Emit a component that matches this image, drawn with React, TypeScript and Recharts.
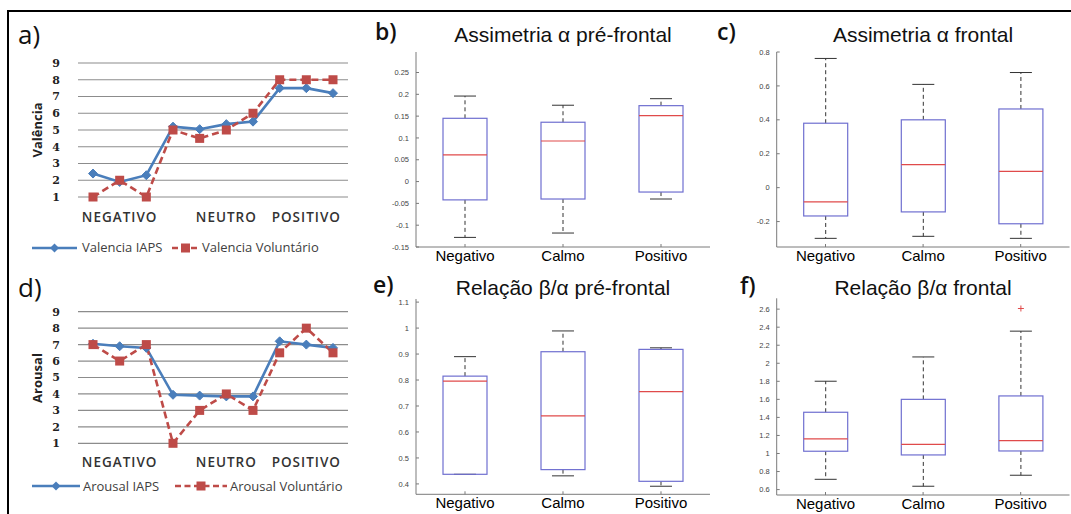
import React from 'react';
import { ComposedChart, Line, Bar, XAxis, YAxis, CartesianGrid } from 'recharts';

// ---------- Panels a) and d): ratings per stimulus ----------
const stimulusIndex = [0, 1, 2, 3, 4, 5, 6, 7, 8, 9];
const stimulusTickLabels = ['', 'NEGATIVO', '', '', '', 'NEUTRO', '', '', 'POSITIVO', ''];
const likertTicks = [1, 2, 3, 4, 5, 6, 7, 8, 9];
const valenciaIAPS = [2.4, 1.9, 2.3, 5.2, 5.05, 5.35, 5.5, 7.5, 7.5, 7.2];
const valenciaVoluntario = [1, 2, 1, 5, 4.5, 5, 6, 8, 8, 8];
const arousalIAPS = [7.05, 6.9, 6.8, 3.95, 3.9, 3.85, 3.85, 7.2, 7.0, 6.8];
const arousalVoluntario = [7, 6, 7, 1, 3, 4, 3, 6.5, 8, 6.5];

// ---------- Box plots b), c), e), f) ----------
const groupNames = ['Negativo', 'Calmo', 'Positivo'];

// b) Assimetria alpha pre-frontal
const asymPreLow = [-0.128, -0.118, -0.04];
const asymPreQ1 = [-0.042, -0.04, -0.024];
const asymPreMedian = [0.061, 0.093, 0.151];
const asymPreQ3 = [0.145, 0.136, 0.174];
const asymPreHigh = [0.196, 0.175, 0.19];
const asymPreTicks = [-0.15, -0.1, -0.05, 0, 0.05, 0.1, 0.15, 0.2, 0.25];
const asymPreDomain = [-0.15, 0.297];

// c) Assimetria alpha frontal
const asymFrLow = [-0.299, -0.287, -0.299];
const asymFrQ1 = [-0.167, -0.143, -0.213];
const asymFrMedian = [-0.084, 0.136, 0.096];
const asymFrQ3 = [0.38, 0.4, 0.464];
const asymFrHigh = [0.762, 0.609, 0.679];
const asymFrTicks = [-0.2, 0, 0.2, 0.4, 0.6, 0.8];
const asymFrDomain = [-0.35, 0.8];

// e) Relacao beta/alpha pre-frontal
const ratioPreLow = [0.437, 0.431, 0.391];
const ratioPreQ1 = [0.437, 0.455, 0.41];
const ratioPreMedian = [0.796, 0.662, 0.755];
const ratioPreQ3 = [0.815, 0.909, 0.918];
const ratioPreHigh = [0.89, 0.989, 0.924];
const ratioPreTicks = [0.4, 0.5, 0.6, 0.7, 0.8, 0.9, 1, 1.1];
const ratioPreDomain = [0.36, 1.112];

// f) Relacao beta/alpha frontal
const ratioFrLow = [0.714, 0.637, 0.759];
const ratioFrQ1 = [1.025, 0.984, 1.028];
const ratioFrMedian = [1.161, 1.102, 1.143];
const ratioFrQ3 = [1.457, 1.6, 1.638];
const ratioFrHigh = [1.801, 2.07, 2.356];
const ratioFrOutliers = [[], [], [2.607]];
const ratioFrTicks = [0.6, 0.8, 1, 1.2, 1.4, 1.6, 1.8, 2, 2.2, 2.4, 2.6];
const ratioFrDomain = [0.54, 2.72];

const BLUE = '#4a7ebb';
const RED = '#be4b48';
const BOX = '#6f6fd0';
const MED = '#e04a4a';
const FRAME = '#7a7a7a';

function buildRows(low: number[], q1: number[], med: number[], q3: number[], high: number[], outliers?: number[][]) {
  return groupNames.map((name, i) => ({
    name,
    range: [low[i], high[i]],
    low: low[i],
    q1: q1[i],
    med: med[i],
    q3: q3[i],
    high: high[i],
    outliers: outliers ? outliers[i] : [],
  }));
}

function BoxShape(props: any) {
  const { x, y, width, height, payload, index } = props;
  if (x == null || y == null || !payload) return null;
  const top = Math.min(y, y + height);
  const bot = Math.max(y, y + height);
  const lo = payload.low;
  const hi = payload.high;
  const py = (v: number) => bot - ((v - lo) / (hi - lo)) * (bot - top);
  const cx = x + width / 2;
  const cap = width / 4;
  const yq1 = py(payload.q1);
  const yq3 = py(payload.q3);
  const ymed = py(payload.med);
  return (
    <g key={`box-${index}`}>
      <line x1={cx} x2={cx} y1={yq3} y2={py(hi)} stroke="#333" strokeWidth={1} strokeDasharray="4 3" />
      <line x1={cx} x2={cx} y1={yq1} y2={py(lo)} stroke="#333" strokeWidth={1} strokeDasharray="4 3" />
      <line x1={cx - cap} x2={cx + cap} y1={py(hi)} y2={py(hi)} stroke="#333" strokeWidth={1} />
      <line x1={cx - cap} x2={cx + cap} y1={py(lo)} y2={py(lo)} stroke="#333" strokeWidth={1} />
      <rect x={x} y={yq3} width={width} height={yq1 - yq3} fill="none" stroke={BOX} strokeWidth={1.2} />
      <line x1={x} x2={x + width} y1={ymed} y2={ymed} stroke={MED} strokeWidth={1.2} />
      {(payload.outliers || []).map((o: number, k: number) => {
        const oy = py(o);
        return (
          <g key={k}>
            <line x1={cx - 3} x2={cx + 3} y1={oy} y2={oy} stroke={MED} strokeWidth={1} />
            <line x1={cx} x2={cx} y1={oy - 3} y2={oy + 3} stroke={MED} strokeWidth={1} />
          </g>
        );
      })}
    </g>
  );
}

function BoxPanel(p: {
  left: number; top: number; width: number; height: number;
  margin: { top: number; right: number; left: number; bottom: number };
  rows: any[]; domain: number[]; ticks: number[];
}) {
  return (
    <div style={{ position: 'absolute', left: p.left, top: p.top }}>
      <ComposedChart width={p.width} height={p.height} data={p.rows} margin={p.margin}>
        <XAxis
          dataKey="name"
          interval={0}
          height={24}
          tickSize={-3}
          tickMargin={6}
          axisLine={{ stroke: FRAME }}
          tickLine={{ stroke: FRAME }}
          tick={{ fontSize: 15, fill: '#000', fontFamily: 'Liberation Sans, Arial, sans-serif' }}
        />
        <XAxis
          xAxisId="top"
          dataKey="name"
          orientation="top"
          height={0}
          tick={false}
          tickSize={-3}
          axisLine={{ stroke: FRAME }}
          tickLine={{ stroke: FRAME }}
        />
        <YAxis
          type="number"
          domain={p.domain}
          ticks={p.ticks}
          interval={0}
          width={40}
          allowDataOverflow
          tickSize={-3}
          tickMargin={10}
          axisLine={{ stroke: FRAME }}
          tickLine={{ stroke: FRAME }}
          tickFormatter={(v: number) => String(v)}
          tick={{ fontSize: 7.5, fill: '#444', fontFamily: 'Liberation Sans, Arial, sans-serif' }}
        />
        <YAxis
          yAxisId="right"
          orientation="right"
          type="number"
          domain={p.domain}
          ticks={p.ticks}
          interval={0}
          width={0}
          allowDataOverflow
          tick={false}
          tickSize={-3}
          axisLine={{ stroke: FRAME }}
          tickLine={{ stroke: FRAME }}
        />
        <Bar dataKey="range" barSize={44} shape={(sp: any) => <BoxShape {...sp} />} isAnimationActive={false} />
      </ComposedChart>
    </div>
  );
}

const DiamondDot = (p: any) => {
  const { cx, cy, index } = p;
  if (cx == null || cy == null || isNaN(cx) || isNaN(cy)) return <g key={`d-${index}`} />;
  const r = 4.5;
  return (
    <polygon key={`d-${index}`} points={`${cx},${cy - r} ${cx + r},${cy} ${cx},${cy + r} ${cx - r},${cy}`} fill={BLUE} stroke={BLUE} />
  );
};

const SquareDot = (p: any) => {
  const { cx, cy, index } = p;
  if (cx == null || cy == null || isNaN(cx) || isNaN(cy)) return <g key={`s-${index}`} />;
  const s = 9;
  return <rect key={`s-${index}`} x={cx - s / 2} y={cy - s / 2} width={s} height={s} fill={RED} />;
};

function LikertPanel(p: {
  top: number; height: number; marginTop: number; marginBottom: number; tickMargin: number;
  iaps: number[]; vol: number[];
}) {
  const data = stimulusIndex.map((i) => ({ idx: i, iaps: p.iaps[i], vol: p.vol[i] }));
  return (
    <div style={{ position: 'absolute', left: 0, top: p.top }}>
      <ComposedChart width={360} height={p.height} data={data} margin={{ top: p.marginTop, right: 12, left: 28, bottom: p.marginBottom }}>
        <CartesianGrid vertical={false} stroke="#8c8c8c" strokeWidth={1.2} />
        <XAxis
          dataKey="idx"
          type="category"
          interval={0}
          height={30}
          padding={{ left: 15, right: 15 }}
          axisLine={false}
          tickLine={false}
          tickSize={0}
          tickMargin={p.tickMargin}
          tickFormatter={(v: number) => stimulusTickLabels[v]}
          tick={{ fontSize: 13.5, fill: '#333', fontWeight: 600, fontFamily: 'Open Sans, sans-serif', letterSpacing: 1 } as any}
        />
        <YAxis
          type="number"
          domain={[1, 9]}
          ticks={likertTicks}
          interval={0}
          width={50}
          axisLine={false}
          tickLine={false}
          tickSize={0}
          tickMargin={18}
          tick={{ fontSize: 11, fill: '#222', fontWeight: 700, fontFamily: 'DejaVu Serif, serif' }}
        />
        <Line dataKey="iaps" stroke={BLUE} strokeWidth={2.6} dot={(dp: any) => <DiamondDot {...dp} />} activeDot={false} isAnimationActive={false} />
        <Line dataKey="vol" stroke={RED} strokeWidth={2.6} strokeDasharray="7 4" dot={(dp: any) => <SquareDot {...dp} />} activeDot={false} isAnimationActive={false} />
      </ComposedChart>
    </div>
  );
}

function LegendRow(p: { y: number; textTop: number; items: { x1: number; x2: number; tx: number; label: string; kind: 'blue' | 'red' }[] }) {
  return (
    <>
      {p.items.map((it, k) => (
        <React.Fragment key={k}>
          <svg style={{ position: 'absolute', left: it.x1, top: p.y - 6 }} width={it.x2 - it.x1} height={12}>
            {it.kind === 'blue' ? (
              <>
                <line x1={0} x2={it.x2 - it.x1} y1={6} y2={6} stroke={BLUE} strokeWidth={2.6} />
                <polygon points={`${(it.x2 - it.x1) / 2},1.5 ${(it.x2 - it.x1) / 2 + 4.5},6 ${(it.x2 - it.x1) / 2},10.5 ${(it.x2 - it.x1) / 2 - 4.5},6`} fill={BLUE} />
              </>
            ) : (
              <>
                <line x1={0} x2={it.x2 - it.x1} y1={6} y2={6} stroke={RED} strokeWidth={2.6} strokeDasharray="6 3.5" />
                <rect x={(it.x2 - it.x1) / 2 - 4.5} y={1.5} width={9} height={9} fill={RED} />
              </>
            )}
          </svg>
          <div style={{ position: 'absolute', left: it.tx, top: p.textTop, fontSize: 13, lineHeight: 1, fontFamily: 'Open Sans, sans-serif', color: '#404040', whiteSpace: 'nowrap' }}>
            {it.label}
          </div>
        </React.Fragment>
      ))}
    </>
  );
}

const letterStyle: React.CSSProperties = { position: 'absolute', fontFamily: 'Open Sans, sans-serif', lineHeight: 1, color: '#111', whiteSpace: 'nowrap' };
const titleStyle: React.CSSProperties = { position: 'absolute', width: 400, textAlign: 'center', fontSize: 21, lineHeight: 1, fontFamily: 'Liberation Sans, Arial, sans-serif', color: '#111', whiteSpace: 'nowrap' };
const yLabelStyle: React.CSSProperties = { position: 'absolute', width: 100, textAlign: 'center', fontSize: 13, lineHeight: '14px', fontWeight: 700, fontFamily: 'Open Sans, sans-serif', color: '#222', transform: 'rotate(-90deg)' };

export default function App() {
  return (
    <div style={{ position: 'absolute', left: 0, top: 0, width: 1071, height: 514, background: '#fff', overflow: 'hidden' }}>
      {/* outer frame */}
      <div style={{ position: 'absolute', left: 7, top: 10, width: 1064, height: 2, background: '#000' }} />
      <div style={{ position: 'absolute', left: 7, top: 10, width: 2, height: 504, background: '#000' }} />

      {/* a) */}
      <LikertPanel top={0} height={240} marginTop={63} marginBottom={13} tickMargin={15} iaps={valenciaIAPS} vol={valenciaVoluntario} />
      <div style={{ ...letterStyle, left: 18, top: 21, fontSize: 26 }}>a)</div>
      <div style={{ ...yLabelStyle, left: -13, top: 123 }}>Valência</div>
      <LegendRow
        y={248}
        textTop={240.5}
        items={[
          { x1: 32, x2: 77, tx: 82, label: 'Valencia IAPS', kind: 'blue' },
          { x1: 172, x2: 199, tx: 202, label: 'Valencia Voluntário', kind: 'red' },
        ]}
      />

      {/* d) */}
      <LikertPanel top={255} height={240} marginTop={56.7} marginBottom={21.7} tickMargin={14.4} iaps={arousalIAPS} vol={arousalVoluntario} />
      <div style={{ ...letterStyle, left: 18, top: 273.6, fontSize: 26 }}>d)</div>
      <div style={{ ...yLabelStyle, left: -13, top: 371 }}>Arousal</div>
      <LegendRow
        y={485.7}
        textTop={479.5}
        items={[
          { x1: 32, x2: 80, tx: 83, label: 'Arousal IAPS', kind: 'blue' },
          { x1: 175, x2: 227, tx: 230, label: 'Arousal Voluntário', kind: 'red' },
        ]}
      />

      {/* b) */}
      <BoxPanel
        left={360} top={0} width={360} height={271}
        margin={{ top: 52, right: 10, left: 16, bottom: 0 }}
        rows={buildRows(asymPreLow, asymPreQ1, asymPreMedian, asymPreQ3, asymPreHigh)}
        domain={asymPreDomain} ticks={asymPreTicks}
      />
      <div style={{ ...letterStyle, left: 375, top: 19.6, fontSize: 23, fontWeight: 600 }}>b)</div>
      <div style={{ ...titleStyle, left: 563 - 200, top: 24 }}>Assimetria α pré-frontal</div>

      {/* c) */}
      <BoxPanel
        left={710} top={0} width={361} height={271}
        margin={{ top: 52, right: 1.5, left: 26.7, bottom: 0 }}
        rows={buildRows(asymFrLow, asymFrQ1, asymFrMedian, asymFrQ3, asymFrHigh)}
        domain={asymFrDomain} ticks={asymFrTicks}
      />
      <div style={{ ...letterStyle, left: 717, top: 19.6, fontSize: 23, fontWeight: 600 }}>c)</div>
      <div style={{ ...titleStyle, left: 923 - 200, top: 24 }}>Assimetria α frontal</div>

      {/* e) */}
      <BoxPanel
        left={360} top={255} width={360} height={263.3}
        margin={{ top: 44, right: 10, left: 16, bottom: 0 }}
        rows={buildRows(ratioPreLow, ratioPreQ1, ratioPreMedian, ratioPreQ3, ratioPreHigh)}
        domain={ratioPreDomain} ticks={ratioPreTicks}
      />
      <div style={{ ...letterStyle, left: 373, top: 273, fontSize: 23, fontWeight: 600 }}>e)</div>
      <div style={{ ...titleStyle, left: 563 - 200, top: 276.5 }}>Relação β/α pré-frontal</div>

      {/* f) */}
      <BoxPanel
        left={710} top={255} width={361} height={264}
        margin={{ top: 43.3, right: 1.5, left: 26.7, bottom: 0 }}
        rows={buildRows(ratioFrLow, ratioFrQ1, ratioFrMedian, ratioFrQ3, ratioFrHigh, ratioFrOutliers)}
        domain={ratioFrDomain} ticks={ratioFrTicks}
      />
      <div style={{ ...letterStyle, left: 740, top: 273.6, fontSize: 23, fontWeight: 600 }}>f)</div>
      <div style={{ ...titleStyle, left: 923 - 200, top: 276.5 }}>Relação β/α frontal</div>
    </div>
  );
}
